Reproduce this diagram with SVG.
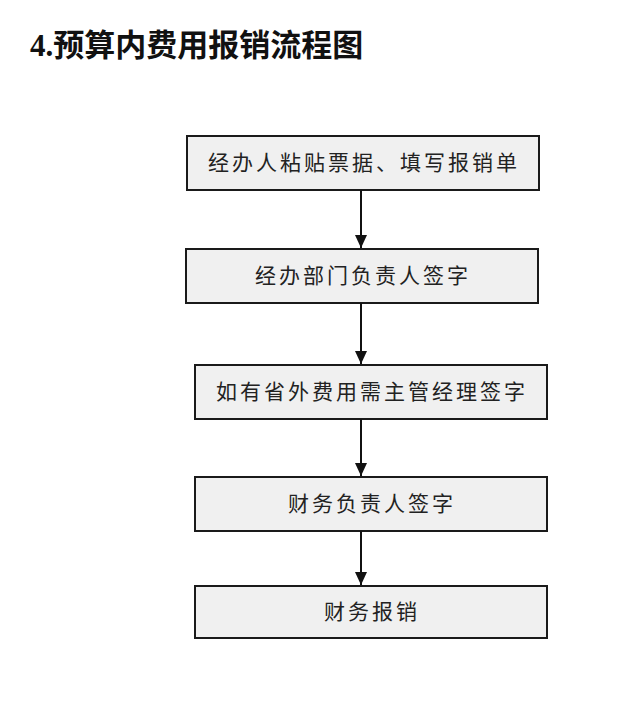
<svg xmlns="http://www.w3.org/2000/svg" width="640" height="712" viewBox="0 0 640 712">
<style>
.b{fill:#f0f0f0;stroke:#1a1a1a;stroke-width:2}
.t{font-family:"Liberation Serif","Noto Sans CJK SC",serif;font-size:21px;letter-spacing:3px;fill:#222;text-anchor:middle}
.c{stroke:#111;stroke-width:2;fill:none}
</style>
<defs><marker id="a" markerWidth="14" markerHeight="14" refX="13" refY="6" orient="auto" markerUnits="userSpaceOnUse"><path d="M0,0L13,6L0,12z" fill="#111"/></marker></defs>
<rect width="640" height="712" fill="#fff"/>
<text x="30" y="56" font-family="Liberation Serif,'Noto Sans CJK SC',serif" font-size="31" font-weight="bold" fill="#111">4.预算内费用报销流程图</text>
<g id="n1"><rect class="b" x="187" y="136" width="352" height="54"/><text class="t" x="364" y="170">经办人粘贴票据、填写报销单</text></g>
<g id="n2"><rect class="b" x="186" y="249" width="352" height="54"/><text class="t" x="363" y="283">经办部门负责人签字</text></g>
<g id="n3"><rect class="b" x="195" y="365" width="352" height="54"/><text class="t" x="372" y="399">如有省外费用需主管经理签字</text></g>
<g id="n4"><rect class="b" x="195" y="477" width="352" height="54"/><text class="t" x="372" y="511">财务负责人签字</text></g>
<g id="n5"><rect class="b" x="195" y="586" width="352" height="52"/><text class="t" x="372" y="619">财务报销</text></g>
<g id="connectors">
<path class="c" d="M361,190V248" marker-end="url(#a)"/>
<path class="c" d="M361,303V364" marker-end="url(#a)"/>
<path class="c" d="M361,419V476" marker-end="url(#a)"/>
<path class="c" d="M361,531V585" marker-end="url(#a)"/>
</g>
</svg>
